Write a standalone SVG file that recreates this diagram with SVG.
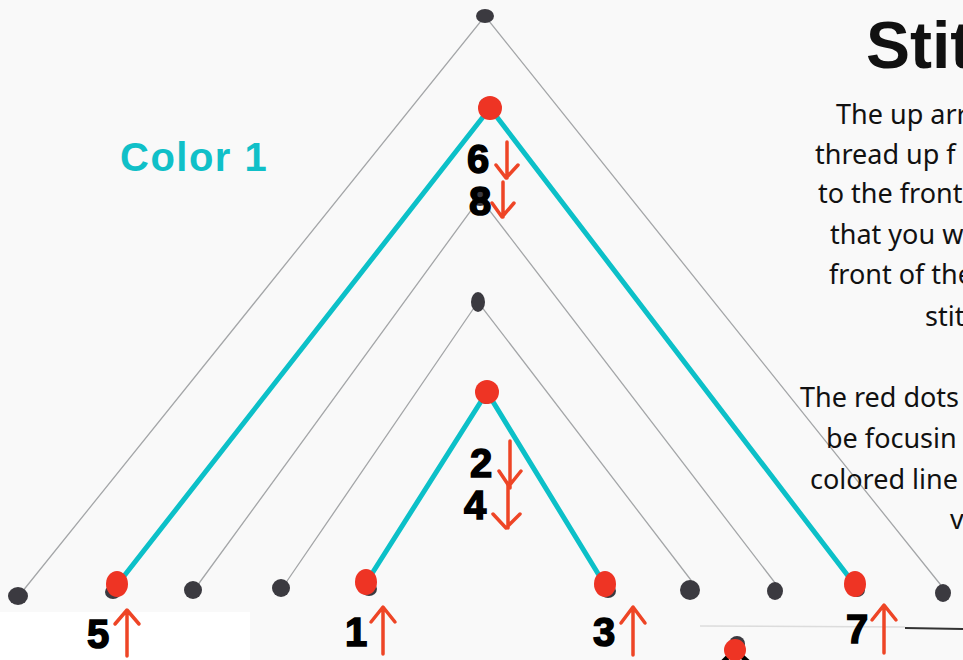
<svg xmlns="http://www.w3.org/2000/svg" width="963" height="660" viewBox="0 0 963 660">
<defs>
<style>
.pencil{stroke:#a4a6a8;stroke-width:1.3;fill:none}
.thread{stroke:#0cc0c8;stroke-width:5;fill:none;stroke-linecap:round}
.hole{fill:#3b3a40}
.red{fill:#ee3424}
.arrow{stroke:#ee4526;stroke-width:3.5;fill:none;stroke-linecap:round;stroke-linejoin:round}
.num{font-family:"Liberation Sans",Arial,sans-serif;font-weight:bold;font-size:40px;fill:#000;stroke:#000;stroke-width:1.5}
.body{font-family:"Noto Sans","Liberation Sans",sans-serif;font-size:27px;fill:#111}
</style>
</defs>
<rect x="0" y="0" width="963" height="660" fill="#f9f9f9"/>
<rect x="0" y="612" width="250" height="48" fill="#ffffff"/>
<line x1="700" y1="626" x2="905" y2="627" stroke="#dcdcdc" stroke-width="1.5"/>
<line x1="905" y1="628" x2="963" y2="629" stroke="#333" stroke-width="2"/>

<g id="connectors">
<polyline class="pencil" points="22,592 485,16 948,594"/>
<polyline class="pencil" points="197,586 480,198 782,592"/>
<polyline class="pencil" points="285,584 478,302 697,588"/>
<polyline class="thread" points="117,585 490,108 855,585"/>
<polyline class="thread" points="366,583 487,392 605,585"/>
</g>

<g id="holes">
<ellipse class="hole" cx="485" cy="16" rx="9" ry="7"/>
<ellipse class="hole" cx="480" cy="198" rx="8" ry="8"/>
<ellipse class="hole" cx="478" cy="302" rx="7" ry="10"/>
<ellipse class="hole" cx="18" cy="596" rx="10" ry="9"/>
<ellipse class="hole" cx="193" cy="590" rx="9" ry="9"/>
<ellipse class="hole" cx="281" cy="588" rx="9" ry="9"/>
<ellipse class="hole" cx="690" cy="590" rx="10" ry="10"/>
<ellipse class="hole" cx="775" cy="591" rx="8" ry="9"/>
<ellipse class="hole" cx="943" cy="593" rx="8" ry="9"/>
</g>

<g id="node-apex-outer">
<ellipse class="hole" cx="486" cy="105" rx="7" ry="7"/>
<circle class="red" cx="490" cy="108" r="12"/>
</g>
<g id="node-apex-inner">
<ellipse class="hole" cx="486" cy="398" rx="7" ry="6"/>
<circle class="red" cx="487" cy="392" r="12"/>
</g>
<g id="node-5">
<ellipse class="hole" cx="113" cy="592" rx="8" ry="7"/>
<ellipse class="red" cx="117" cy="584" rx="11" ry="13"/>
<text class="num" x="87" y="648">5</text>
<path class="arrow" d="M127,656 V612 M115,624 L127,610 L139,624"/>
</g>
<g id="node-1">
<ellipse class="hole" cx="369" cy="589" rx="8" ry="7"/>
<ellipse class="red" cx="366" cy="582" rx="11" ry="13"/>
<text class="num" x="345" y="646">1</text>
<path class="arrow" d="M383,654 V609 M371,622 L383,607 L395,622"/>
</g>
<g id="node-3">
<ellipse class="hole" cx="608" cy="591" rx="8" ry="7"/>
<ellipse class="red" cx="605" cy="584" rx="11" ry="13"/>
<text class="num" x="593" y="646">3</text>
<path class="arrow" d="M633,655 V609 M621,623 L633,607 L645,623"/>
</g>
<g id="node-7">
<ellipse class="hole" cx="857" cy="590" rx="8" ry="7"/>
<ellipse class="red" cx="855" cy="584" rx="11" ry="13"/>
<text class="num" x="846" y="643">7</text>
<path class="arrow" d="M884,653 V606 M872,620 L884,605 L896,620"/>
</g>
<g id="label-6-8">
<text class="num" x="467" y="173">6</text>
<path class="arrow" d="M507,142 V178 M496,165 L506,178 L518,165"/>
<text class="num" x="469" y="215">8</text>
<path class="arrow" d="M503,182 V217 M492,203 L502,217 L514,203"/>
</g>
<g id="label-2-4">
<text class="num" x="470" y="477">2</text>
<path class="arrow" d="M510,441 V488 M499,471 L509,486 L521,471"/>
<text class="num" x="464" y="519">4</text>
<path class="arrow" d="M508,484 V528 M493,514 L506,528 L520,514"/>
</g>
<g id="next-diagram">
<line x1="735" y1="650" x2="723" y2="662" stroke="#000" stroke-width="5"/>
<line x1="735" y1="650" x2="748" y2="662" stroke="#000" stroke-width="5"/>
<circle class="hole" cx="737" cy="644" r="8"/>
<circle class="red" cx="735" cy="650" r="11"/>
</g>

<text x="120" y="171" font-family="Liberation Sans,Arial,sans-serif" font-weight="bold" font-size="40" fill="#10c0c8" letter-spacing="1.5">Color 1</text>
<text x="866" y="68" font-family="Liberation Sans,Arial,sans-serif" font-weight="bold" font-size="66" fill="#111">Stit</text>

<g class="body">
<text x="836" y="124">The up arr</text>
<text x="815" y="164">thread up f</text>
<text x="818" y="203">to the front.</text>
<text x="830" y="244">that you w</text>
<text x="829" y="284">front of the</text>
<text x="925" y="326">stit</text>
<text x="800" y="407">The red dots</text>
<text x="826" y="448">be focusin</text>
<text x="810" y="489">colored line</text>
<text x="950" y="529">v</text>
</g>
</svg>
